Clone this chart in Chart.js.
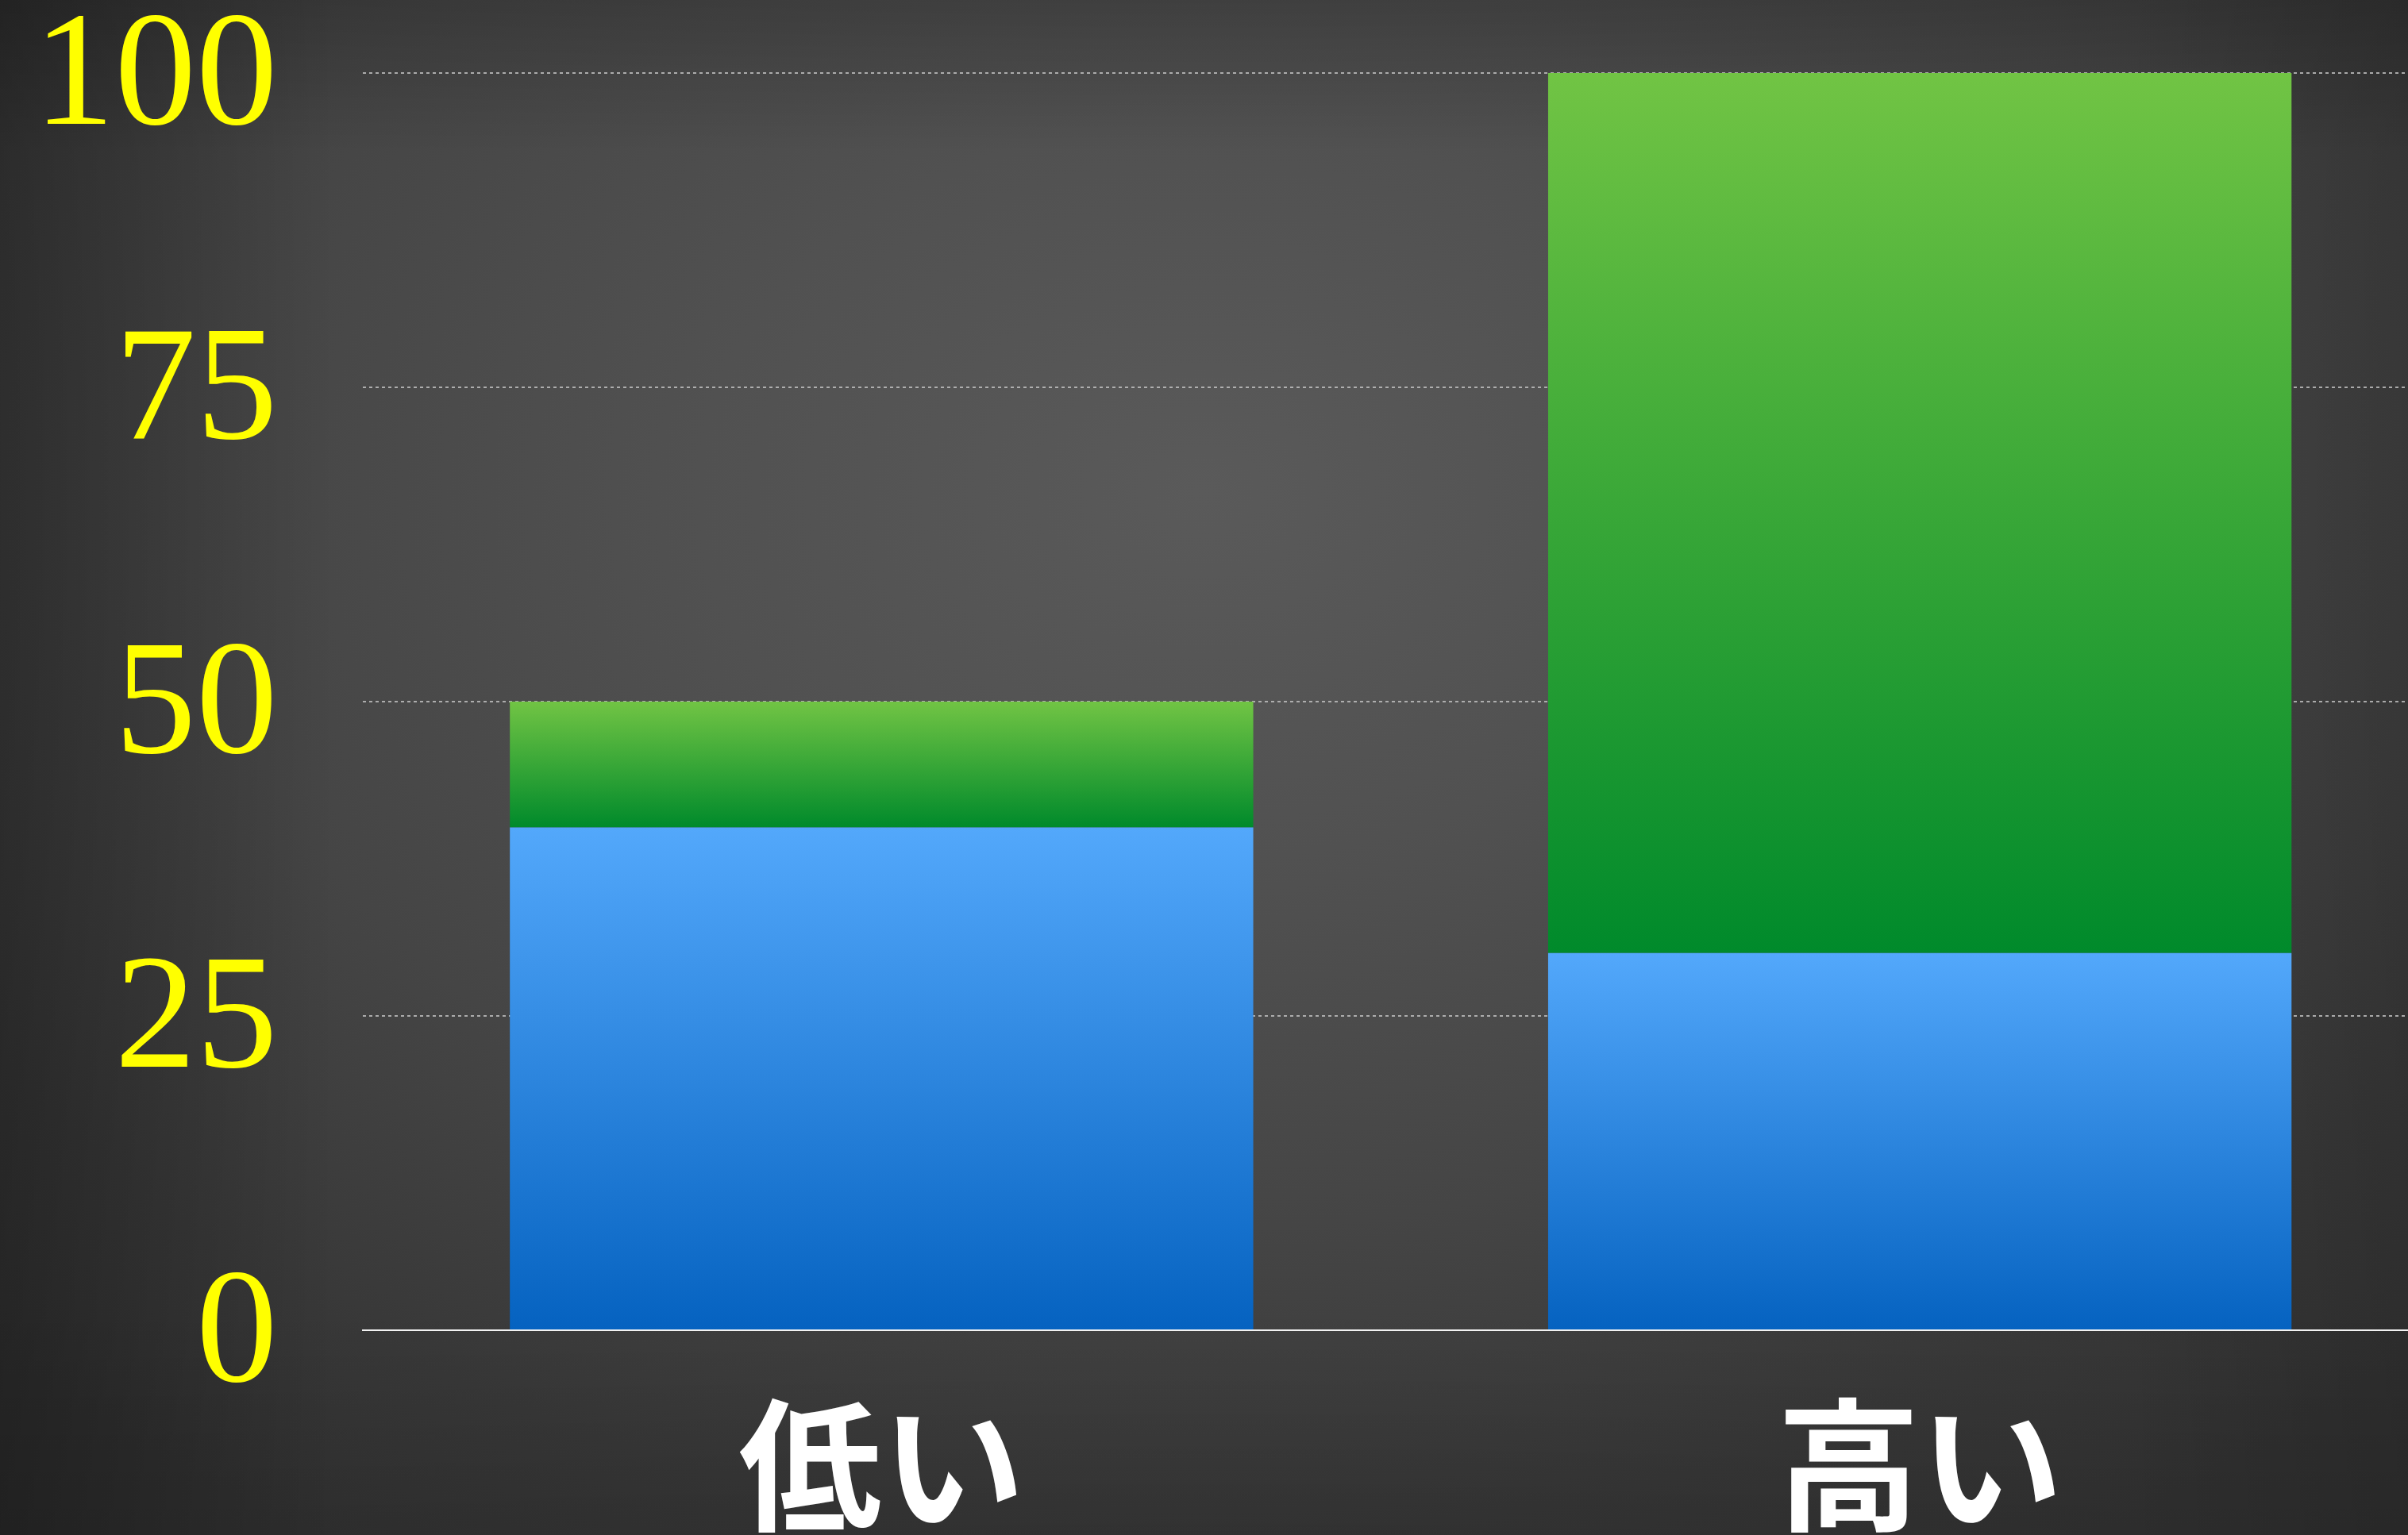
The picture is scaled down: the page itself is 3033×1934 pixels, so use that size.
<!DOCTYPE html>
<html>
<head>
<meta charset="utf-8">
<script src="https://cdn.jsdelivr.net/npm/chart.js@4/dist/chart.umd.min.js"></script>
<style>
  html, body { margin: 0; padding: 0; width: 3033px; height: 1934px; overflow: hidden; }
  body {
    position: relative;
    background:
      linear-gradient(to right, rgba(0,0,0,0.28) 0%, rgba(0,0,0,0) 14%, rgba(0,0,0,0) 88%, rgba(0,0,0,0.12) 100%),
      linear-gradient(to bottom, rgba(0,0,0,0.18) 0%, rgba(0,0,0,0) 10%, rgba(0,0,0,0) 85%, rgba(0,0,0,0.12) 100%),
      radial-gradient(ellipse 70% 80% at 50% 32%, #5a5a5a 0%, #515151 30%, #454545 60%, #383838 85%, #333333 100%);
  }
  #wrap { position: absolute; left: -65px; top: -35px; width: 3137px; height: 2051px; }
  canvas { display: block; }
</style>
</head>
<body>
<div id="wrap"><canvas id="c" width="3137" height="2051"></canvas></div>
<script>
// ---- data ----
const categories = ['低い', '高い'];
const blueValues = [40, 30];
const greenValues = [10, 70];
const yTicks = [0, 25, 50, 75, 100];

function makeGradient(context, baseArr, valArr, topColor, bottomColor) {
  const chart = context.chart;
  const { ctx, chartArea, scales } = chart;
  if (!chartArea || !scales.y || context.type !== 'data') return bottomColor;
  const i = context.dataIndex;
  const base = baseArr ? baseArr[i] : 0;
  const top = base + valArr[i];
  const y0 = scales.y.getPixelForValue(top);
  const y1 = scales.y.getPixelForValue(base);
  const g = ctx.createLinearGradient(0, y0, 0, y1);
  g.addColorStop(0, topColor);
  g.addColorStop(1, bottomColor);
  return g;
}

new Chart(document.getElementById('c'), {
  type: 'bar',
  data: {
    labels: categories,
    datasets: [
      {
        label: 'blue',
        data: blueValues,
        backgroundColor: (c) => makeGradient(c, null, blueValues, '#53a8fb', '#0562c0'),
        borderWidth: 0,
        barPercentage: 0.716,
        categoryPercentage: 1.0
      },
      {
        label: 'green',
        data: greenValues,
        backgroundColor: (c) => makeGradient(c, blueValues, greenValues, '#71c444', '#008a2b'),
        borderWidth: 0,
        barPercentage: 0.716,
        categoryPercentage: 1.0
      }
    ]
  },
  options: {
    responsive: false,
    animation: false,
    devicePixelRatio: 1,
    layout: { padding: 0 },
    plugins: { legend: { display: false }, tooltip: { enabled: false } },
    scales: {
      x: {
        stacked: true,
        offset: true,
        grid: { display: true, drawOnChartArea: false, drawTicks: false },
        border: { display: true, color: '#f2f2f2', width: 2 },
        ticks: {
          color: '#ffffff',
          padding: 80,
          maxRotation: 0,
          autoSkip: false,
          font: { family: "'Noto Sans CJK JP', sans-serif", size: 180, weight: 'bold', lineHeight: 1.0 }
        }
      },
      y: {
        stacked: true,
        min: 0,
        max: 100,
        afterBuildTicks: (scale) => { scale.ticks = yTicks.map(v => ({ value: v })); },
        grid: { color: 'rgba(190,190,190,0.85)', lineWidth: 2, drawTicks: false },
        border: { display: false, dash: [4, 4] },
        ticks: {
          color: '#ffff00',
          padding: 107,
          callback: (v) => ['', String(v)],
          font: { family: "'Liberation Serif', 'Times New Roman', serif", size: 205, lineHeight: 20 / 205 }
        }
      }
    }
  }
});
</script>
</body>
</html>
